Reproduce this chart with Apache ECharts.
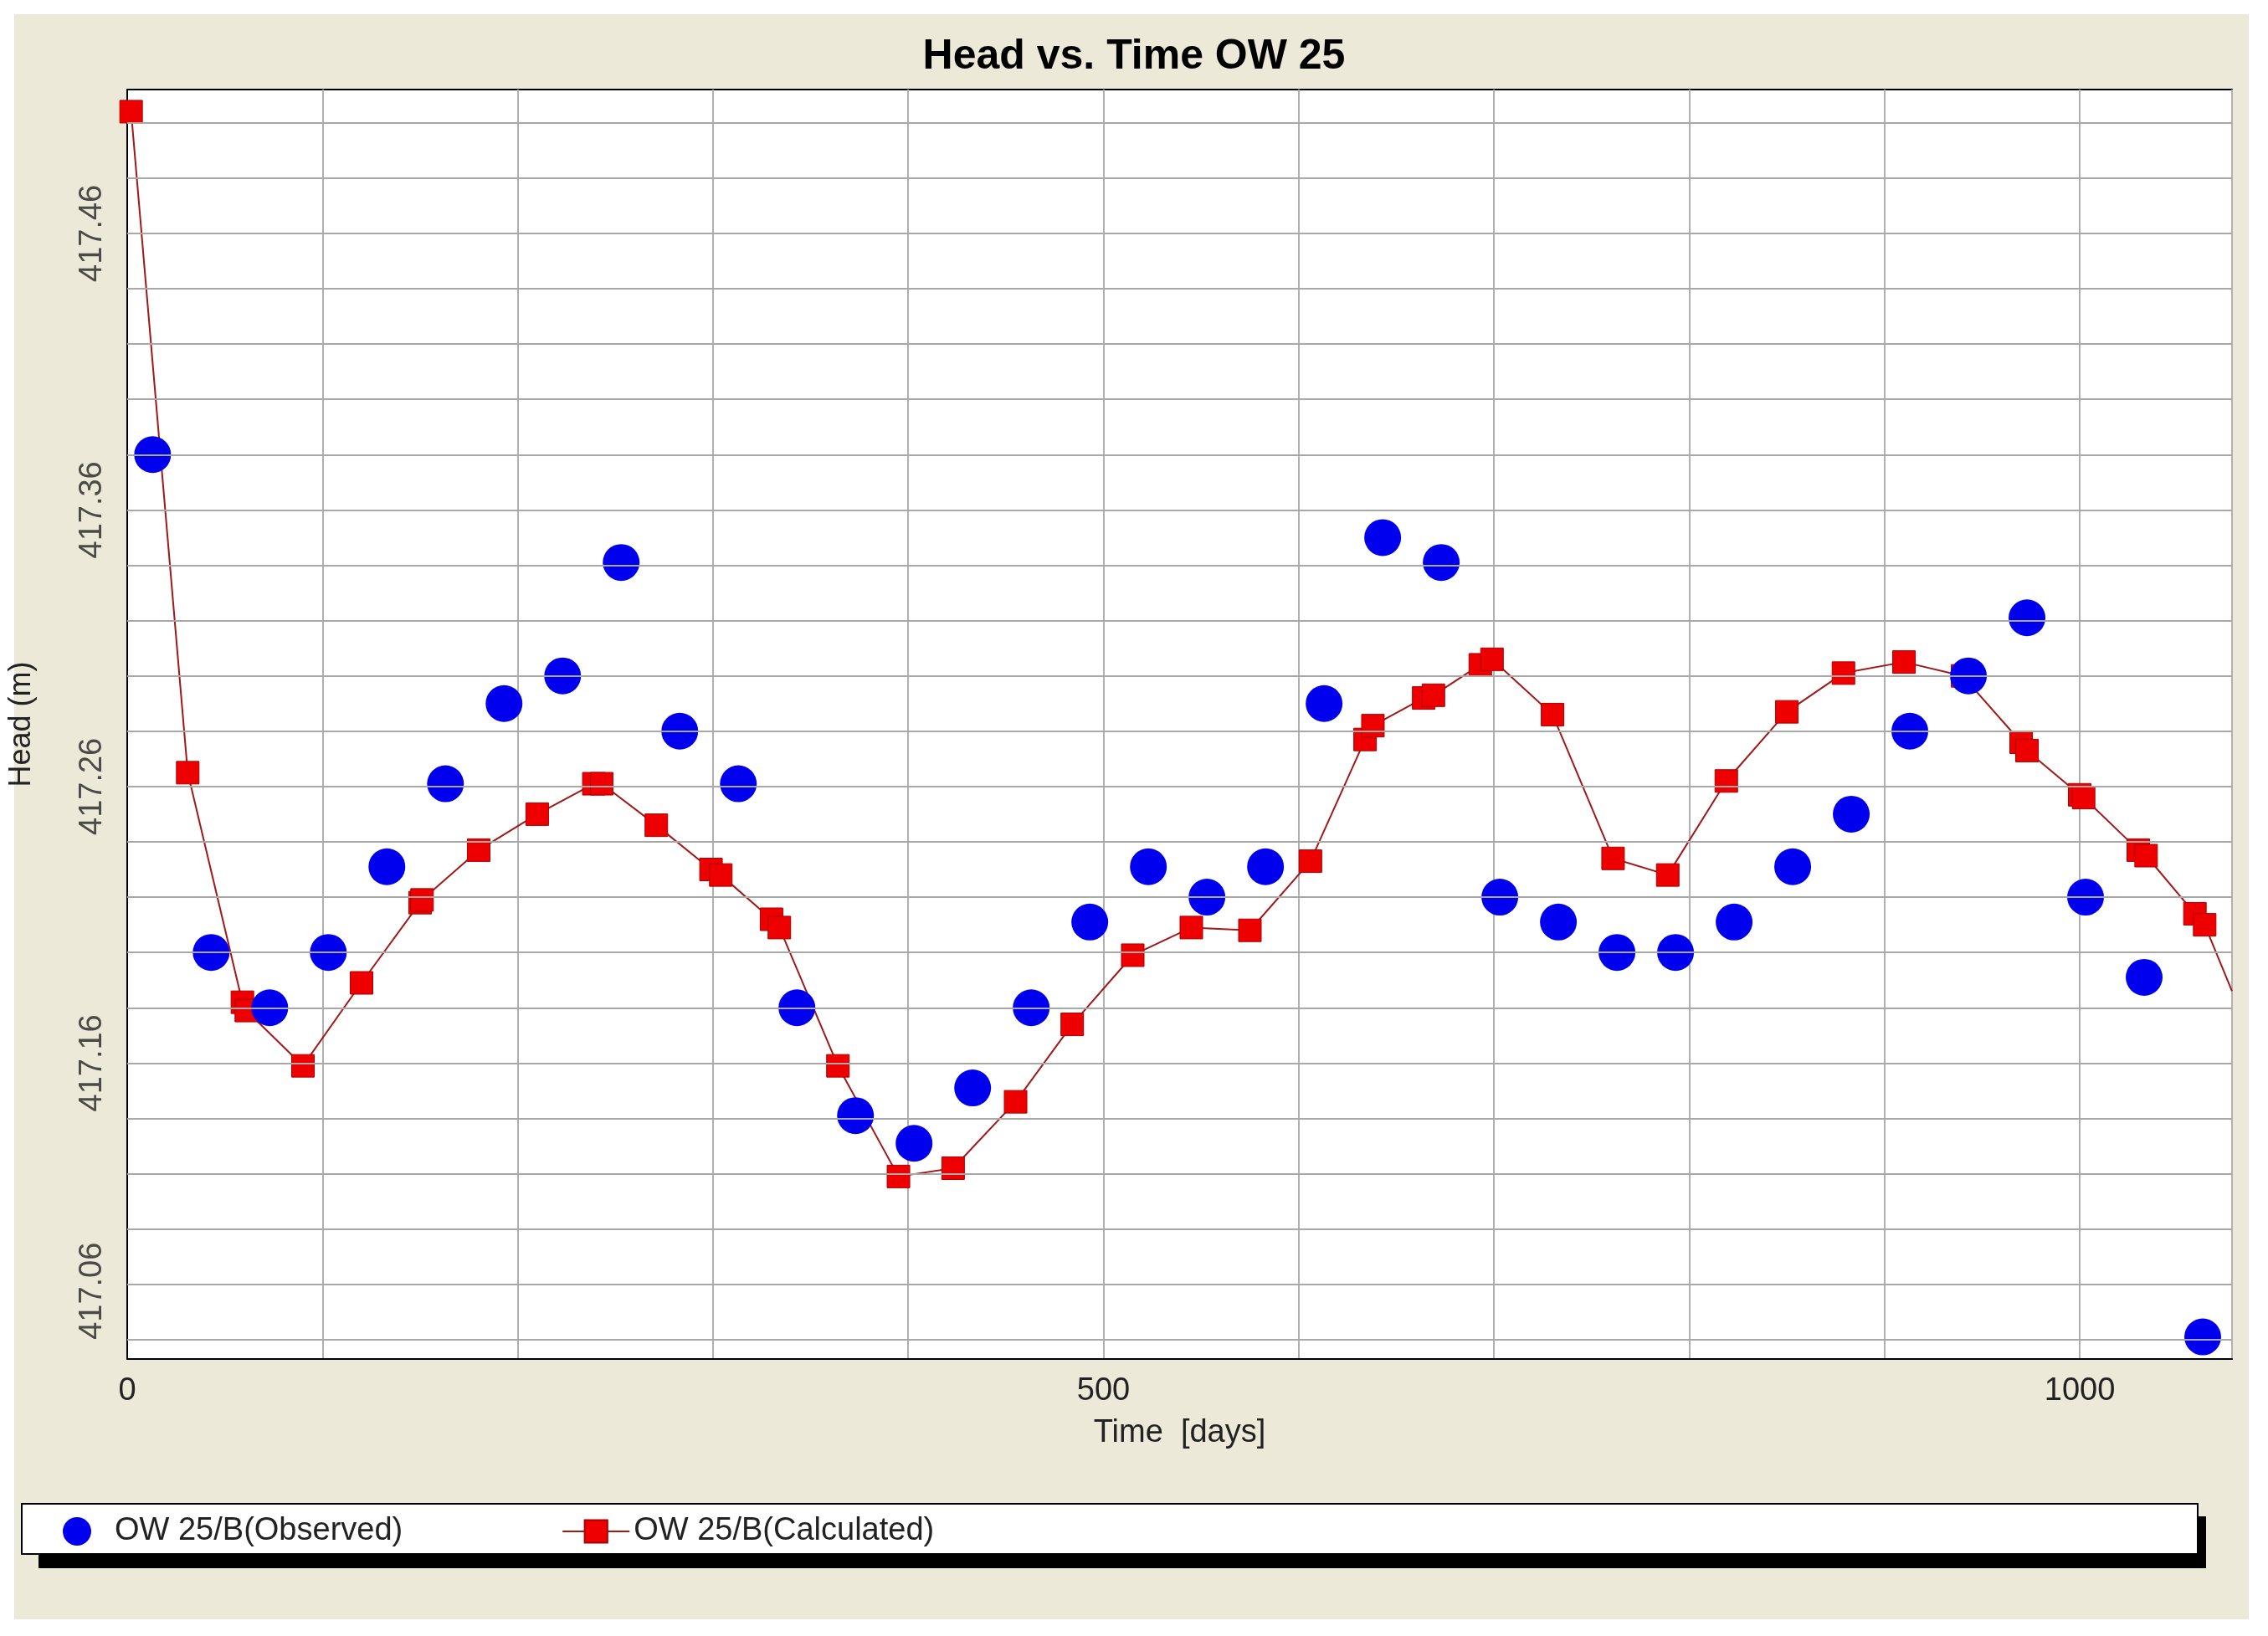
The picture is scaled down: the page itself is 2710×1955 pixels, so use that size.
<!DOCTYPE html>
<html><head><meta charset="utf-8">
<script src="https://cdn.jsdelivr.net/npm/echarts@6/dist/echarts.min.js"></script>
<style>html,body{margin:0;padding:0;background:#fff}#c{width:2710px;height:1955px}</style>
</head><body><div id="c"></div>
<script>
const obsDays=[13,43,73,103,133,163,193,223,253,283,313,343,373,403,433,463,493,523,553,583,613,643,673,703,733,763,793,823,853,883,913,943,973,1003,1033,1063];
const obsHead=[417.380,417.200,417.180,417.200,417.231,417.261,417.290,417.300,417.341,417.280,417.261,417.180,417.141,417.131,417.151,417.180,417.211,417.231,417.220,417.231,417.290,417.350,417.341,417.220,417.211,417.200,417.200,417.211,417.231,417.250,417.280,417.300,417.321,417.220,417.191,417.061];
const calDays=[2,31,59,61,90,120,150,151,180,210,239,243,271,299,304,330,334,364,395,423,455,484,515,545,575,606,634,638,664,669,693,699,730,761,789,819,850,879,910,940,970,973,1000,1002,1030,1034,1059,1064];
const calHead=[417.504,417.265,417.182,417.179,417.159,417.189,417.218,417.219,417.237,417.250,417.261,417.261,417.246,417.230,417.228,417.212,417.209,417.159,417.119,417.122,417.146,417.174,417.199,417.209,417.208,417.233,417.277,417.282,417.292,417.293,417.304,417.306,417.286,417.234,417.228,417.262,417.287,417.301,417.305,417.300,417.276,417.273,417.257,417.256,417.237,417.235,417.214,417.210];
const calTail=[1078,417.186];
const yTicks=[417.06,417.16,417.26,417.36,417.46];
const yGrid=[417.06,417.08,417.10,417.12,417.14,417.16,417.18,417.20,417.22,417.24,417.26,417.28,417.30,417.32,417.34,417.36,417.38,417.40,417.42,417.44,417.46,417.48,417.50];

const calData=calDays.map((d,i)=>[d,calHead[i]]);
calData.push({value:calTail,symbol:'none'});
const ch=echarts.init(document.getElementById('c'));
const F='Liberation Sans, Arial, sans-serif';
ch.setOption({
 backgroundColor:'#fff',
 animation:false,
 graphic:[
  {type:'rect',shape:{x:17,y:17,width:2670,height:1918},style:{fill:'#ece9d8'},z:-10},
  {type:'rect',shape:{x:46,y:1812,width:2590,height:62},style:{fill:'#000'},z:-5},
  {type:'rect',shape:{x:26,y:1797,width:2600,height:60},style:{fill:'#fff',stroke:'#000',lineWidth:2},z:-4}
 ],
 title:{text:'Head vs. Time OW 25',left:'center',top:38,textStyle:{fontFamily:F,fontWeight:'bold',fontSize:50,color:'#000'}},
 grid:{left:152,right:2710-2667,top:107,bottom:1955-1624,backgroundColor:'#fff',show:true,borderColor:'#000',borderWidth:2},
 xAxis:{type:'value',min:0,max:1078,interval:100,name:'Time  [days]',nameLocation:'middle',nameGap:70,
  nameTextStyle:{fontFamily:F,fontSize:38,color:'#222'},
  axisLine:{lineStyle:{color:'#000',width:2}},axisTick:{show:false},
  axisLabel:{fontFamily:F,fontSize:38,color:'#222',margin:20,formatter:v=>(v%500===0?String(v):'')},
  splitLine:{lineStyle:{color:'#b0b0b0',width:2}}},
 yAxis:{type:'value',min:417.053,max:417.512,name:'Head (m)',nameLocation:'middle',nameGap:108,nameRotate:90,
  nameTextStyle:{fontFamily:F,fontSize:36,color:'#222'},
  axisLine:{lineStyle:{color:'#000',width:2}},axisTick:{show:false},
  axisLabel:{show:false},splitLine:{show:false}},
 legend:{left:70,top:1806,itemGap:190,itemWidth:80,itemHeight:34,
  textStyle:{fontFamily:F,fontSize:38,color:'#222'},
  data:[{name:'OW 25/B(Observed)',icon:'circle'},{name:'OW 25/B(Calculated)'}]},
 series:[
  {name:'grid',type:'line',data:[],silent:true,
   markLine:{symbol:'none',silent:true,label:{show:false},lineStyle:{color:'#a8a8a8',width:2,type:'solid'},
    data:yGrid.map(v=>({yAxis:v}))}},
  {name:'ylabels',type:'scatter',symbolSize:0,clip:false,silent:true,
   data:yTicks.map((v,i)=>i===0?{value:[0,v],label:{align:'left'}}:{value:[0,v]}),
   label:{show:true,position:'left',distance:22,rotate:90,align:'center',verticalAlign:'bottom',
    formatter:p=>p.value[1].toFixed(2),fontFamily:F,fontSize:38,color:'#222'}},
  {name:'OW 25/B(Calculated)',type:'line',data:calData,symbol:'rect',symbolSize:27,
   itemStyle:{color:'#ee0000',borderColor:'#aa0000',borderWidth:1},lineStyle:{color:'#a01818',width:2},z:2},
  {name:'OW 25/B(Observed)',type:'scatter',data:obsDays.map((d,i)=>[d,obsHead[i]]),symbol:'circle',symbolSize:44,
   itemStyle:{color:'#0000ee',opacity:1},z:3}
 ]
});
</script></body></html>
